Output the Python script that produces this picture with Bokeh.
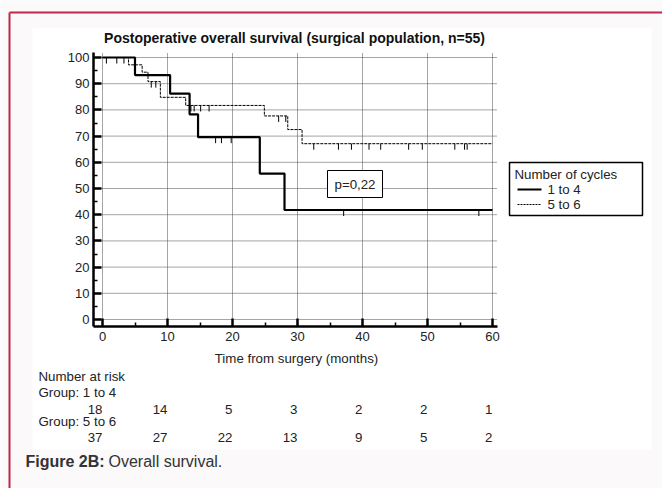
import numpy as np
from bokeh.plotting import figure
from bokeh.models import Range1d, LinearAxis, FixedTicker
from bokeh.core.properties import value
from bokeh.embed import file_html
from bokeh.resources import INLINE

# ---------------- data ----------------
x_ticks = [0, 10, 20, 30, 40, 50, 60]
x_minor = [5, 15, 25, 35, 45, 55]
y_ticks = [0, 10, 20, 30, 40, 50, 60, 70, 80, 90, 100]
y_minor = [5, 15, 25, 35, 45, 55, 65, 75, 85, 95]

g1_times = [0, 5.0, 10.4, 13.4, 14.7, 24.2, 28.0]
g1_surv = [100, 93.3, 86.2, 78.3, 69.6, 55.7, 41.8]
g1_censor = [17.4, 18.3, 19.8, 37.1, 57.9]

g2_times = [0, 4.0, 6.1, 7.0, 8.9, 12.8, 24.9, 28.5, 30.7]
g2_surv = [100, 97.2, 94.4, 90.8, 84.8, 81.7, 77.7, 72.5, 67.1]
g2_censor = [0.6, 2.2, 3.3, 7.5, 8.2, 13.6, 14.1, 15.1, 16.4, 27.1, 28.2,
             32.5, 36.3, 38.3, 41.0, 42.8, 47.1, 49.2, 54.2, 55.7, 56.1]

risk_times = [0, 10, 20, 30, 40, 50, 60]
g1_risk = [18, 14, 5, 3, 2, 2, 1]
g2_risk = [37, 27, 22, 13, 9, 5, 2]

title_text = "Postoperative overall survival (surgical population, n=55)"
x_label = "Time from surgery (months)"
legend_title = "Number of cycles"
group_names = ["1 to 4", "5 to 6"]
p_text = "p=0,22"

# ---------------- geometry (page pixels -> data) ----------------
W, H = 662, 488
OX, OY = 0, 0            # page offset of the canvas
X0, XS = 102.0, 6.5      # page x of month 0, px per month
Y0, YS = 319.0, 2.62     # page y of 0 %, px per %


def px(v):
    return (v - X0) / XS


def py(v):
    return (Y0 - v) / YS


FONT = value("Liberation Sans")
FS = "13.3px"
TXT = "#222222"

p = figure(width=W, height=H, output_backend="svg", toolbar_location=None,
           x_range=Range1d(px(OX), px(OX + W)), y_range=Range1d(py(OY + H), py(OY)),
           x_axis_type=None, y_axis_type=None, min_border=0)
p.outline_line_color = None
p.background_fill_color = "#fcf9fa"
p.border_fill_color = "#fcf9fa"
p.xgrid.visible = False
p.ygrid.visible = False

# page frame: white panel + crimson border
p.quad(left=px(32), right=px(651), top=py(28), bottom=py(449),
       fill_color="white", line_color=None)
p.segment(x0=[px(9), px(9)], y0=[py(12), py(12)], x1=[px(9), px(662)],
          y1=[py(490), py(12)], line_color="#c0284c", line_width=2)

# gridlines
p.segment(x0=x_ticks, x1=x_ticks, y0=py(326), y1=py(52),
          line_color="#4a4a4a", line_dash="1 1", line_width=1)
p.segment(x0=px(93), x1=px(497), y0=y_ticks, y1=y_ticks,
          line_color="#4a4a4a", line_dash="1 1", line_width=1)


def step_value(times, surv, t):
    i = np.searchsorted(np.asarray(times), t, side="right") - 1
    return np.asarray(surv)[i]


# curves
p.step(x=g2_times + [60], y=g2_surv + [g2_surv[-1]], mode="after",
       line_color="black", line_width=1, line_dash="3 1")
p.step(x=g1_times + [60], y=g1_surv + [g1_surv[-1]], mode="after",
       line_color="black", line_width=2.2)

c2 = [step_value(g2_times, g2_surv, t) for t in g2_censor]
p.segment(x0=g2_censor, x1=g2_censor, y0=c2, y1=[v - 2.3 for v in c2],
          line_color="black", line_width=1)
c1 = [step_value(g1_times, g1_surv, t) for t in g1_censor]
p.segment(x0=g1_censor, x1=g1_censor, y0=c1, y1=[v - 2.3 for v in c1],
          line_color="black", line_width=1)

# axes
xaxis = LinearAxis(fixed_location=py(326), bounds=(px(93), px(497)),
                   ticker=FixedTicker(ticks=x_ticks, minor_ticks=x_minor))
yaxis = LinearAxis(fixed_location=px(93), bounds=(py(326), py(52)),
                   ticker=FixedTicker(ticks=y_ticks, minor_ticks=y_minor))
for ax in (xaxis, yaxis):
    ax.axis_line_width = 2.5
    ax.axis_line_color = "black"
    ax.major_tick_in = 8
    ax.major_tick_out = 0
    ax.minor_tick_in = 4
    ax.minor_tick_out = 0
    ax.major_tick_line_width = 2.5
    ax.minor_tick_line_width = 1.5
    ax.major_label_text_font = "Liberation Sans"
    ax.major_label_text_font_size = "13px"
    ax.major_label_text_color = TXT
    ax.major_label_standoff = 5
yaxis.major_label_standoff = 4
p.add_layout(xaxis, "below")
p.add_layout(yaxis, "left")

# title and axis label
p.text(x=[px(294)], y=[py(37)], text=[title_text], text_font=FONT,
       text_font_size="14px", text_font_style="bold", text_align="center",
       text_baseline="middle", text_color="#111111")
p.text(x=[px(296)], y=[py(358)], text=[x_label], text_font=FONT,
       text_font_size=FS, text_align="center", text_baseline="middle",
       text_color=TXT)

# p-value box
p.quad(left=px(327), right=px(382), top=py(170), bottom=py(197),
       fill_color="white", line_color="black", line_width=1)
p.text(x=[px(354.5)], y=[py(184)], text=[p_text], text_font=FONT,
       text_font_size=FS, text_align="center", text_baseline="middle",
       text_color=TXT)

# legend
p.quad(left=px(509), right=px(642), top=py(162), bottom=py(215),
       fill_color="white", line_color="black", line_width=1.5)
p.text(x=[px(514)], y=[py(174)], text=[legend_title], text_font=FONT,
       text_font_size=FS, text_align="left", text_baseline="middle",
       text_color=TXT)
p.text(x=[px(547), px(547)], y=[py(189), py(204)], text=group_names,
       text_font=FONT, text_font_size=FS, text_align="left",
       text_baseline="middle", text_color=TXT)
p.segment(x0=[px(517)], x1=[px(541)], y0=[py(189)], y1=[py(189)],
          line_color="black", line_width=2)
p.segment(x0=[px(517)], x1=[px(541)], y0=[py(204)], y1=[py(204)],
          line_color="black", line_width=1, line_dash="2 1")

# number at risk table
p.text(x=[px(38)] * 3, y=[py(376), py(392), py(421)],
       text=["Number at risk", "Group: " + group_names[0], "Group: " + group_names[1]],
       text_font=FONT, text_font_size=FS, text_align="left",
       text_baseline="middle", text_color=TXT)
p.text(x=risk_times, y=[py(409)] * len(risk_times), text=[str(v) for v in g1_risk],
       text_font=FONT, text_font_size=FS, text_align="right",
       text_baseline="middle", text_color=TXT)
p.text(x=risk_times, y=[py(437)] * len(risk_times), text=[str(v) for v in g2_risk],
       text_font=FONT, text_font_size=FS, text_align="right",
       text_baseline="middle", text_color=TXT)

# caption
p.text(x=[px(25)], y=[py(461)], text=["Figure 2B:"], text_font=FONT,
       text_font_size="16px", text_font_style="bold", text_align="left",
       text_baseline="middle", text_color="#333333")
p.text(x=[px(108)], y=[py(461)], text=["Overall survival."], text_font=FONT,
       text_font_size="16px", text_align="left", text_baseline="middle",
       text_color="#333333")

open("out.html", "w").write(file_html(p, INLINE))
